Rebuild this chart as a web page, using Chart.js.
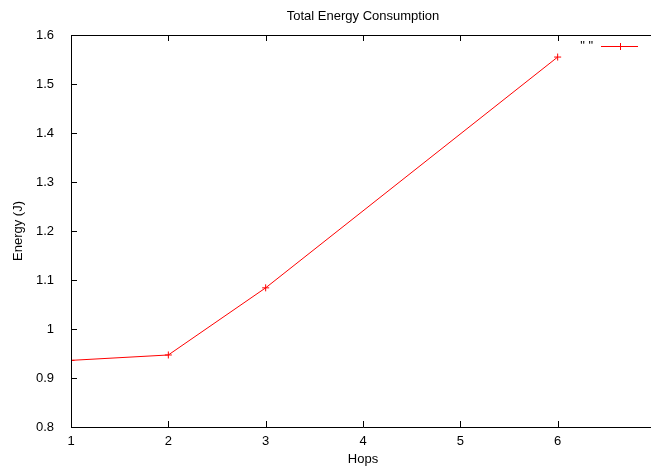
<!DOCTYPE html>
<html>
<head>
<meta charset="utf-8">
<script src="https://cdn.jsdelivr.net/npm/chart.js@4/dist/chart.umd.min.js"></script>
<style>
  html, body { margin: 0; padding: 0; overflow: hidden; background: #fff; }
</style>
</head>
<body>
<canvas id="energy" width="660" height="466"></canvas>
<script>
var hops = [1, 2, 3, 6];
var energy = [0.936, 0.947, 1.084, 1.555];
var xTicks = [1, 2, 3, 4, 5, 6];
var yTicks = [0.8, 0.9, 1, 1.1, 1.2, 1.3, 1.4, 1.5, 1.6];

var FONT = "Liberation Sans, Arial, sans-serif";

// gnuplot-ish frame, inward ticks, title, axis labels and key
var gnuFrame = {
  id: "gnuFrame",
  afterDraw: function (chart) {
    var c = chart.ctx, a = chart.chartArea;
    var xs = chart.scales.x, ys = chart.scales.y;
    c.save();
    c.strokeStyle = "#000";
    c.lineWidth = 1;
    c.beginPath();
    c.moveTo(a.left + 0.5, a.top + 0.5);
    c.lineTo(a.right, a.top + 0.5);
    c.moveTo(a.left + 0.5, a.top);
    c.lineTo(a.left + 0.5, a.bottom + 0.5);
    c.lineTo(a.right, a.bottom + 0.5);
    xTicks.forEach(function (v) {
      var px = Math.round(xs.getPixelForValue(v)) + 0.5;
      c.moveTo(px, a.bottom);
      c.lineTo(px, a.bottom - 6);
      c.moveTo(px, a.top);
      c.lineTo(px, a.top + 6);
    });
    yTicks.forEach(function (v) {
      var py = Math.round(ys.getPixelForValue(v)) + 0.5;
      c.moveTo(a.left, py);
      c.lineTo(a.left + 6, py);
    });
    c.stroke();

    var cx = (a.left + a.right) / 2;
    c.fillStyle = "#000";
    c.font = "13px " + FONT;
    c.textAlign = "center";
    c.textBaseline = "middle";
    c.fillText("Total Energy Consumption", cx, 16);
    c.fillText("Hops", cx, 459);
    c.save();
    c.translate(18, (a.top + a.bottom) / 2);
    c.rotate(-Math.PI / 2);
    c.fillText("Energy (J)", 0, 0);
    c.restore();

    // key
    c.textAlign = "right";
    c.fillText("\" \"", 593, 46);
    c.strokeStyle = "#ff0000";
    c.beginPath();
    c.moveTo(601, 46.5);
    c.lineTo(638, 46.5);
    c.moveTo(620.5, 43);
    c.lineTo(620.5, 50);
    c.stroke();
    c.restore();
  }
};

new Chart(document.getElementById("energy").getContext("2d"), {
  type: "line",
  data: {
    datasets: [
      {
        label: "\" \"",
        data: hops.map(function (h, i) { return { x: h, y: energy[i] }; }),
        borderColor: "#ff0000",
        borderWidth: 1,
        pointStyle: "cross",
        pointRadius: 3.5,
        pointBorderColor: "#ff0000",
        pointBorderWidth: 1,
        tension: 0,
        fill: false
      }
    ]
  },
  options: {
    responsive: false,
    animation: false,
    layout: { padding: { top: 35, right: 5, left: 0, bottom: 0 } },
    plugins: {
      legend: { display: false },
      title: { display: false },
      tooltip: { enabled: false }
    },
    scales: {
      x: {
        type: "linear",
        min: 1,
        max: 7,
        afterBuildTicks: function (s) { s.ticks = xTicks.map(function (v) { return { value: v }; }); },
        afterFit: function (s) { s.height = 39; },
        grid: { display: false },
        border: { display: false },
        ticks: { color: "#000", padding: -1, font: { family: FONT, size: 13 } }
      },
      y: {
        type: "linear",
        min: 0.8,
        max: 1.6,
        afterBuildTicks: function (s) { s.ticks = yTicks.map(function (v) { return { value: v }; }); },
        afterFit: function (s) { s.width = 71; },
        grid: { display: false },
        border: { display: false },
        ticks: {
          color: "#000",
          padding: 9,
          font: { family: FONT, size: 13 },
          callback: function (v) { return String(Math.round(v * 10) / 10); }
        }
      }
    }
  },
  plugins: [gnuFrame]
});
</script>
</body>
</html>
